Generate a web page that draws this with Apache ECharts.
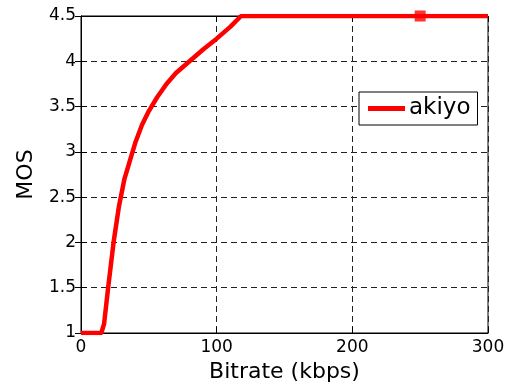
<!DOCTYPE html>
<html><head><meta charset="utf-8">
<script src="https://cdn.jsdelivr.net/npm/echarts@6/dist/echarts.min.js"></script>
<style>html,body{margin:0;padding:0;background:#fff}#c{width:511px;height:385px}</style>
</head><body><div id="c"></div>
<script>
var seriesName = 'akiyo';
var bitrate = [0, 15, 17, 20, 24, 28, 32, 36, 40, 45, 50, 56, 63, 70, 80, 90, 100, 110, 118, 120, 300];
var mos = [1, 1, 1.1, 1.5, 2.0, 2.4, 2.7, 2.9, 3.1, 3.3, 3.45, 3.6, 3.75, 3.87, 4.0, 4.13, 4.25, 4.38, 4.5, 4.5, 4.5];
var markerX = [250];
var markerY = [4.5];
var xTitle = 'Bitrate (kbps)';
var yTitle = 'MOS';

var chart = echarts.init(document.getElementById('c'), null, {renderer: 'canvas'});
var font = 'DejaVu Sans, sans-serif';
var dash = {show: true, lineStyle: {color: '#222', type: [6, 4], width: 1}};
var tick = {show: true, inside: true, length: 6, lineStyle: {color: '#000'}};
chart.setOption({
  animation: false,
  backgroundColor: '#fff',
  grid: {left: 81, right: 23, top: 16, bottom: 52, show: true, borderColor: '#000', borderWidth: 1,
         containLabel: false, outerBoundsMode: 'none'},
  legend: {
    data: [{name: seriesName, icon: 'rect'}],
    left: 359, top: 92,
    itemWidth: 37, itemHeight: 5, itemGap: 4,
    padding: [5, 7, 5, 9],
    borderColor: '#000', borderWidth: 1, backgroundColor: '#fff',
    textStyle: {fontFamily: font, fontSize: 23, color: '#000', padding: [0, 0, 0, -1]}
  },
  xAxis: [{
    type: 'value', min: 0, max: 300, interval: 100,
    name: xTitle, nameLocation: 'middle', nameGap: 26,
    nameTextStyle: {fontFamily: font, fontSize: 22, color: '#000'},
    axisLine: {show: true, lineStyle: {color: '#000'}},
    axisTick: tick,
    axisLabel: {fontFamily: font, fontSize: 17, color: '#000', margin: 6},
    splitLine: dash
  }, {
    type: 'value', min: 0, max: 300, interval: 100, position: 'top',
    axisLine: {show: true, lineStyle: {color: '#000'}},
    axisTick: tick, axisLabel: {show: false}, splitLine: {show: false}
  }],
  yAxis: [{
    type: 'value', min: 1, max: 4.5, interval: 0.5,
    name: yTitle, nameLocation: 'middle', nameGap: 44, nameRotate: 90,
    nameTextStyle: {fontFamily: font, fontSize: 22, color: '#000'},
    axisLine: {show: true, lineStyle: {color: '#000'}},
    axisTick: tick,
    axisLabel: {fontFamily: font, fontSize: 17, color: '#000', margin: 5},
    splitLine: dash
  }, {
    type: 'value', min: 1, max: 4.5, interval: 0.5, position: 'right',
    axisLine: {show: true, lineStyle: {color: '#000'}},
    axisTick: tick, axisLabel: {show: false}, splitLine: {show: false}
  }],
  series: [
    {
      name: seriesName, type: 'line', showSymbol: false, symbol: 'none',
      data: bitrate.map(function (x, i) { return [x, mos[i]]; }),
      lineStyle: {color: '#ff0000', width: 4.5},
      itemStyle: {color: '#ff0000'}
    },
    {
      name: 'marker', type: 'scatter', symbol: 'rect', symbolSize: 11,
      data: markerX.map(function (x, i) { return [x, markerY[i]]; }),
      itemStyle: {color: '#ff0000'}
    }
  ]
});
</script></body></html>
